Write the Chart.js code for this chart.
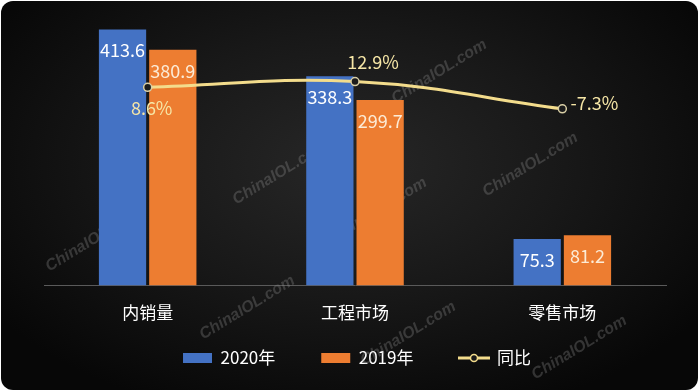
<!DOCTYPE html>
<html>
<head>
<meta charset="utf-8">
<script src="https://cdn.jsdelivr.net/npm/chart.js@4.4.1/dist/chart.umd.min.js"></script>
<style>
  html, body { margin: 0; background: #fff; }
  #panel { position: relative; width: 700px; height: 392px; background: #fff; overflow: hidden; }
  #bg {
    position: absolute; left: 1px; top: 1px; right: 2px; bottom: 2px; border-radius: 12px;
    background: radial-gradient(ellipse 62% 68% at 50% 42%, #272727 0%, #181818 50%, #070707 100%);
  }
  #chart { position: absolute; left: 0; top: 0; }
</style>
</head>
<body>
<div id="panel"><div id="bg"></div><canvas id="chart" width="700" height="392"></canvas></div>
<script>
// data
const categories = ["内销量", "工程市场", "零售市场"];
const sales2020 = [413.6, 338.3, 75.3];
const sales2019 = [380.9, 299.7, 81.2];
const yoyGrowth = [8.6, 12.9, -7.3];
const seriesNames = ["2020年", "2019年", "同比"];

const FONT = '"Noto Sans CJK SC", "Noto Sans", sans-serif';
Chart.defaults.font.family = FONT;

const LINE_COLOR = "#F3DC8C";
const barLabelColors = ["#FFFFFF", "#FCEBD6"];
// label offset from each line point: [dx, dy]
const lineLabelOffsets = [[4, 21], [18, -19], [32, -6]];

function legendLineIcon() {
  const c = document.createElement("canvas");
  c.width = 32;
  c.height = 12;
  const g = c.getContext("2d");
  g.strokeStyle = LINE_COLOR;
  g.lineWidth = 3;
  g.beginPath();
  g.moveTo(0, 6);
  g.lineTo(32, 6);
  g.stroke();
  g.lineWidth = 1.5;
  g.fillStyle = "#1a1a1a";
  g.beginPath();
  g.arc(16, 6, 3.5, 0, Math.PI * 2);
  g.fill();
  g.stroke();
  return c;
}

// faint site watermark, under the bars
const watermark = {
  id: "watermark",
  beforeDatasetsDraw(chart) {
    const ctx = chart.ctx;
    const spots = [[393, 100], [484, 193], [234, 201], [47, 268], [201, 336], [362, 362], [533, 376], [333, 238]];
    ctx.save();
    ctx.font = 'bold italic 16px "Liberation Sans", sans-serif';
    ctx.fillStyle = "rgba(150,150,150,0.30)";
    spots.forEach(([x, y]) => {
      ctx.save();
      ctx.translate(x, y);
      ctx.rotate(-0.55);
      ctx.fillText("ChinaIOL.com", 0, 0);
      ctx.restore();
    });
    ctx.restore();
  },
};

const valueLabels = {
  id: "valueLabels",
  afterDatasetsDraw(chart) {
    const ctx = chart.ctx;
    ctx.save();
    ctx.textAlign = "center";
    ctx.textBaseline = "middle";
    ctx.font = `18px ${FONT}`;
    [0, 1].forEach((di) => {
      ctx.fillStyle = barLabelColors[di];
      chart.getDatasetMeta(di).data.forEach((el, i) => {
        ctx.fillText(chart.data.datasets[di].data[i].toFixed(1), el.x, el.y + 21);
      });
    });
    ctx.fillStyle = "#F6E6A6";
    chart.getDatasetMeta(2).data.forEach((el, i) => {
      const [dx, dy] = lineLabelOffsets[i];
      ctx.fillText(yoyGrowth[i].toFixed(1) + "%", el.x + dx, el.y + dy);
    });
    ctx.restore();
  },
};

// wide gaps between legend items without a tall legend box
const legendSpacing = {
  id: "legendSpacing",
  beforeInit(chart) {
    const lg = chart.legend;
    const origFit = lg.fit;
    lg.fit = function () {
      origFit.call(this);
      this.height -= this.options.labels.padding - 10;
    };
  },
  afterLayout(chart) {
    const lg = chart.legend;
    const pad = lg.options.labels.padding;
    lg.top = 358 - pad - 8.5;
    lg.bottom = lg.top + pad + 30;
    lg.left += 2;
    lg.right += 2;
  },
};

new Chart(document.getElementById("chart"), {
  type: "bar",
  data: {
    labels: categories,
    datasets: [
      {
        label: seriesNames[0],
        data: sales2020,
        backgroundColor: "#4472C4",
        yAxisID: "y",
        order: 1,
        categoryPercentage: 0.485,
        barPercentage: 0.94,
      },
      {
        label: seriesNames[1],
        data: sales2019,
        backgroundColor: "#ED7D31",
        yAxisID: "y",
        order: 1,
        categoryPercentage: 0.485,
        barPercentage: 0.94,
      },
      {
        type: "line",
        label: seriesNames[2],
        data: yoyGrowth,
        yAxisID: "y1",
        order: 0,
        borderColor: LINE_COLOR,
        borderWidth: 3,
        tension: 0.4,
        pointRadius: 4,
        pointBorderWidth: 1.5,
        pointBorderColor: "#D9CFA6",
        pointBackgroundColor: "#1c1c1c",
      },
    ],
  },
  options: {
    responsive: false,
    devicePixelRatio: 1,
    animation: false,
    layout: { padding: { left: 44, right: 34, top: 7, bottom: 15 } },
    scales: {
      x: {
        grid: { display: false, drawTicks: false },
        border: { display: true, color: "#5a5a5a", width: 1 },
        ticks: { color: "#FFFFFF", font: { size: 17 }, padding: 17 },
      },
      y: { display: false, min: 0, max: 450 },
      y1: { display: false, min: -138, max: 68 },
    },
    plugins: {
      tooltip: { enabled: false },
      legend: {
        position: "bottom",
        labels: {
          color: "#FFFFFF",
          font: { size: 17 },
          usePointStyle: true,
          pointStyleWidth: 29,
          boxHeight: 10,
          padding: 46,
          sort: (a, b) => a.datasetIndex - b.datasetIndex,
          generateLabels(chart) {
            const items = Chart.defaults.plugins.legend.labels.generateLabels(chart);
            return items.map((it) => {
              it.pointStyle = it.datasetIndex === 2 ? legendLineIcon() : "rect";
              return it;
            });
          },
        },
      },
    },
  },
  plugins: [watermark, valueLabels, legendSpacing],
});
</script>
</body>
</html>
